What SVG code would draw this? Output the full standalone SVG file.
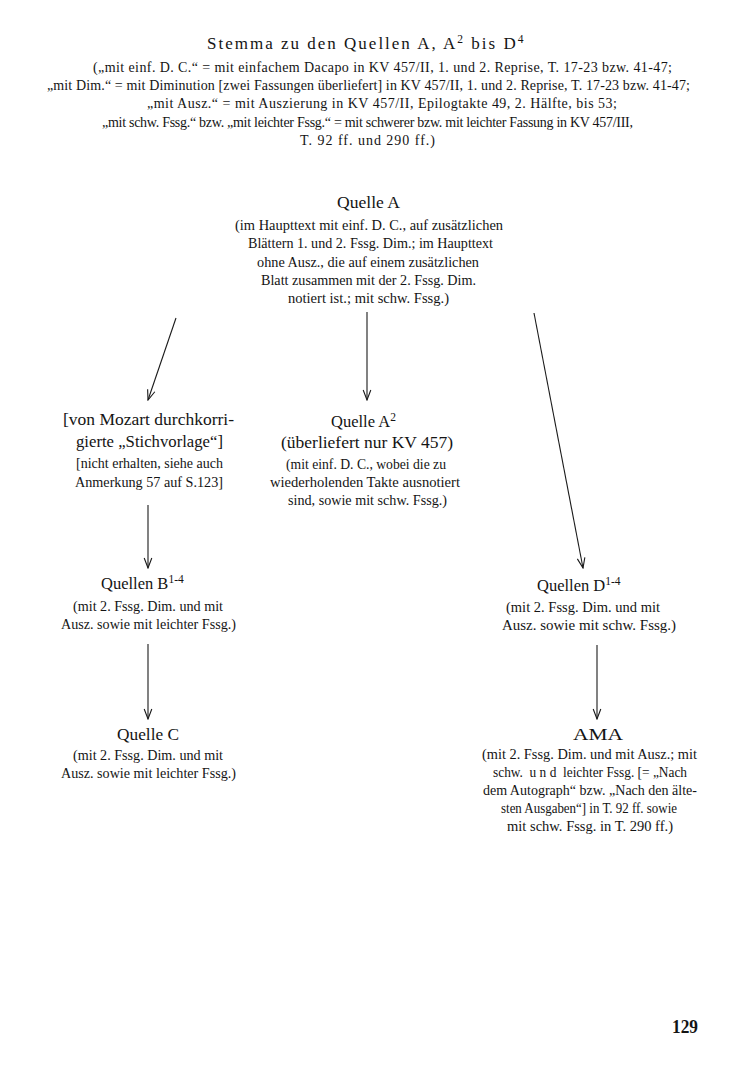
<svg xmlns="http://www.w3.org/2000/svg" width="736" height="1084" viewBox="0 0 736 1084">
<style>
text{font-family:"Liberation Serif","Times New Roman",serif;fill:#141414}
.t{font-size:17px}
.n{font-size:16.5px}
.s{font-size:14px}
.h{font-size:14px}
.sup{font-size:11.5px}
.c line{stroke:#1a1a1a;stroke-width:1.1;fill:none}
</style>
<defs>
<marker id="ah" viewBox="-11 -6 12 12" refX="0" refY="0" markerWidth="12" markerHeight="12" markerUnits="userSpaceOnUse" orient="auto">
<path d="M-10,-3.8 L0,0 L-10,3.8" fill="none" stroke="#1a1a1a" stroke-width="1.1"/>
</marker>
</defs>
<rect width="736" height="1084" fill="#fff"/>
<g id="header">
<text class="t" x="207" y="49" letter-spacing="2">Stemma zu den Quellen A, A<tspan class="sup" dy="-6">2</tspan><tspan dy="6"> bis D</tspan><tspan class="sup" dy="-6">4</tspan></text>
<text class="h" x="93" y="72" textLength="579" lengthAdjust="spacing">(„mit einf. D. C.“ = mit einfachem Dacapo in KV 457/II, 1. und 2. Reprise, T. 17-23 bzw. 41-47;</text>
<text class="h" x="47" y="90" textLength="643" lengthAdjust="spacing">„mit Dim.“ = mit Diminution [zwei Fassungen überliefert] in KV 457/II, 1. und 2. Reprise, T. 17-23 bzw. 41-47;</text>
<text class="h" x="147" y="108" textLength="470" lengthAdjust="spacing">„mit Ausz.“ = mit Auszierung in KV 457/II, Epilogtakte 49, 2. Hälfte, bis 53;</text>
<text class="h" x="102" y="127" textLength="531" lengthAdjust="spacing">„mit schw. Fssg.“ bzw. „mit leichter Fssg.“ = mit schwerer bzw. mit leichter Fassung in KV 457/III,</text>
<text class="h" x="300" y="145" textLength="135" lengthAdjust="spacing">T. 92 ff. und 290 ff.)</text>
</g>
<g id="quelleA">
<text class="t" x="337" y="208" textLength="63" lengthAdjust="spacingAndGlyphs">Quelle A</text>
<text class="s" x="235" y="230" textLength="268" lengthAdjust="spacingAndGlyphs">(im Haupttext mit einf. D. C., auf zusätzlichen</text>
<text class="s" x="248" y="248" textLength="245" lengthAdjust="spacingAndGlyphs">Blättern 1. und 2. Fssg. Dim.; im Haupttext</text>
<text class="s" x="257" y="267" textLength="222" lengthAdjust="spacingAndGlyphs">ohne Ausz., die auf einem zusätzlichen</text>
<text class="s" x="261" y="285" textLength="215" lengthAdjust="spacingAndGlyphs">Blatt zusammen mit der 2. Fssg. Dim.</text>
<text class="s" x="288" y="303" textLength="161" lengthAdjust="spacingAndGlyphs">notiert ist.; mit schw. Fssg.)</text>
</g>
<g id="stichvorlage">
<text class="n" x="63" y="425" textLength="171" lengthAdjust="spacingAndGlyphs">[von Mozart durchkorri-</text>
<text class="n" x="76" y="447" textLength="147" lengthAdjust="spacingAndGlyphs">gierte „Stichvorlage“]</text>
<text class="s" x="76" y="468" textLength="147" lengthAdjust="spacingAndGlyphs">[nicht erhalten, siehe auch</text>
<text class="s" x="75" y="487" textLength="148" lengthAdjust="spacingAndGlyphs">Anmerkung 57 auf S.123]</text>
</g>
<g id="quelleA2">
<text class="n" x="331" y="427">Quelle A<tspan class="sup" dy="-6">2</tspan></text>
<text class="n" x="281" y="448" textLength="172" lengthAdjust="spacingAndGlyphs">(überliefert nur KV 457)</text>
<text class="s" x="286" y="469" textLength="160" lengthAdjust="spacingAndGlyphs">(mit einf. D. C., wobei die zu</text>
<text class="s" x="270" y="487" textLength="190" lengthAdjust="spacingAndGlyphs">wiederholenden Takte ausnotiert</text>
<text class="s" x="288" y="505" textLength="159" lengthAdjust="spacingAndGlyphs">sind, sowie mit schw. Fssg.)</text>
</g>
<g id="quellenB">
<text class="n" x="101" y="589">Quellen B<tspan class="sup" dy="-6">1-4</tspan></text>
<text class="s" x="73" y="611" textLength="150" lengthAdjust="spacingAndGlyphs">(mit 2. Fssg. Dim. und mit</text>
<text class="s" x="61" y="629" textLength="175" lengthAdjust="spacingAndGlyphs">Ausz. sowie mit leichter Fssg.)</text>
</g>
<g id="quelleC">
<text class="n" x="117" y="740" textLength="62" lengthAdjust="spacingAndGlyphs">Quelle C</text>
<text class="s" x="73" y="760" textLength="150" lengthAdjust="spacingAndGlyphs">(mit 2. Fssg. Dim. und mit</text>
<text class="s" x="61" y="778" textLength="175" lengthAdjust="spacingAndGlyphs">Ausz. sowie mit leichter Fssg.)</text>
</g>
<g id="quellenD">
<text class="n" x="537" y="591">Quellen D<tspan class="sup" dy="-6">1-4</tspan></text>
<text class="s" x="506" y="612" textLength="154" lengthAdjust="spacingAndGlyphs">(mit 2. Fssg. Dim. und mit</text>
<text class="s" x="502" y="630" textLength="174" lengthAdjust="spacingAndGlyphs">Ausz. sowie mit schw. Fssg.)</text>
</g>
<g id="AMA">
<text class="t" x="573" y="740" textLength="50" lengthAdjust="spacingAndGlyphs">AMA</text>
<text class="s" x="482" y="759" textLength="215" lengthAdjust="spacingAndGlyphs">(mit 2. Fssg. Dim. und mit Ausz.; mit</text>
<text class="s" x="493" y="777" textLength="194" lengthAdjust="spacingAndGlyphs" xml:space="preserve">schw.  u n d  leichter Fssg. [= „Nach</text>
<text class="s" x="483" y="795" textLength="214" lengthAdjust="spacingAndGlyphs">dem Autograph“ bzw. „Nach den älte-</text>
<text class="s" x="501" y="813" textLength="176" lengthAdjust="spacingAndGlyphs">sten Ausgaben“] in T. 92 ff. sowie</text>
<text class="s" x="507" y="831" textLength="166" lengthAdjust="spacingAndGlyphs">mit schw. Fssg. in T. 290 ff.)</text>
</g>
<g id="connectors" class="c">
<line x1="176" y1="318" x2="148" y2="400" marker-end="url(#ah)"/>
<line x1="367" y1="312" x2="367" y2="400" marker-end="url(#ah)"/>
<line x1="534" y1="313" x2="583" y2="568" marker-end="url(#ah)"/>
<line x1="148" y1="505" x2="148" y2="568" marker-end="url(#ah)"/>
<line x1="148" y1="644" x2="148" y2="719" marker-end="url(#ah)"/>
<line x1="597" y1="645" x2="597" y2="719" marker-end="url(#ah)"/>
</g>
<g id="page">
<text x="672" y="1033" font-size="18" font-weight="bold" textLength="26" lengthAdjust="spacingAndGlyphs">129</text>
</g>
</svg>
